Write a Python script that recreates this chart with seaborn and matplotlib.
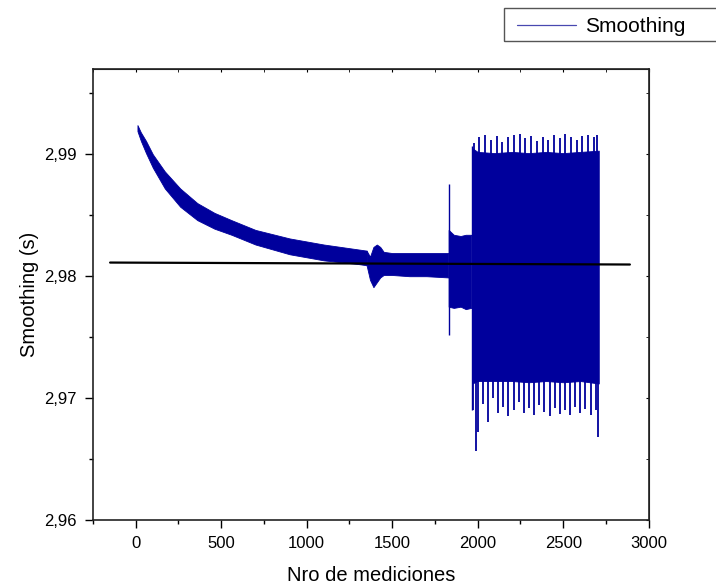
import numpy as np
import pandas as pd
import seaborn as sns
import matplotlib
matplotlib.use("Agg")
import matplotlib.pyplot as plt
from matplotlib.lines import Line2D
from matplotlib.patches import Rectangle
from matplotlib.ticker import MultipleLocator, FuncFormatter

decay_x = [10, 30, 60, 100, 170, 260, 360, 460, 560, 700, 900, 1100, 1300, 1350]
decay_up = [2.9924, 2.9918, 2.9911, 2.9900, 2.9886, 2.9872, 2.9860, 2.9852, 2.9846, 2.9838, 2.9831, 2.9826, 2.9822, 2.9821]
decay_lo = [2.9919, 2.9911, 2.9901, 2.9889, 2.9872, 2.9857, 2.9846, 2.9839, 2.9834, 2.9826, 2.9818, 2.9813, 2.9810, 2.9809]

mid_x = [1350, 1370, 1390, 1410, 1430, 1450, 1500, 1600, 1700, 1828]
mid_up = [2.9821, 2.9816, 2.9824, 2.9826, 2.9824, 2.9820, 2.9819, 2.9819, 2.9819, 2.9819]
mid_lo = [2.9809, 2.9797, 2.9791, 2.9795, 2.9799, 2.9801, 2.9801, 2.9800, 2.9800, 2.9799]

step_x = [1830, 1860, 1900, 1930, 1962]
step_up = [2.9838, 2.9834, 2.9833, 2.9834, 2.9834]
step_lo = [2.9775, 2.9774, 2.9775, 2.9773, 2.9774]

big_x = [1968, 2000, 2100, 2200, 2300, 2400, 2500, 2600, 2708]
big_up = [2.9905, 2.9902, 2.9901, 2.9902, 2.9901, 2.9902, 2.9901, 2.9902, 2.9903]
big_lo = [2.9712, 2.9714, 2.9714, 2.9714, 2.9713, 2.9714, 2.9713, 2.9714, 2.9712]

# isolated spikes
spike_x = [1832, 1968]
spike_top = [2.9876, 2.9907]
spike_bot = [2.9752, 2.9690]

top_spike_x = [1978, 2005, 2040, 2075, 2110, 2140, 2175, 2210, 2245, 2275, 2310, 2345,
               2380, 2410, 2445, 2480, 2510, 2545, 2580, 2610, 2645, 2680, 2700]
top_spike_y = [2.9909, 2.9914, 2.9916, 2.9912, 2.9915, 2.9910, 2.9914, 2.9916, 2.9917, 2.9913, 2.9915, 2.9911,
               2.9914, 2.9912, 2.9916, 2.9913, 2.9917, 2.9914, 2.9912, 2.9915, 2.9916, 2.9914, 2.9916]

bot_spike_x = [1975, 1988, 2000, 2030, 2060, 2090, 2120, 2150, 2180, 2210, 2240, 2270, 2300, 2330,
               2360, 2390, 2420, 2450, 2480, 2510, 2540, 2570, 2600, 2630, 2660, 2690, 2705]
bot_spike_y = [2.9690, 2.9657, 2.9672, 2.9695, 2.9680, 2.9700, 2.9688, 2.9693, 2.9685, 2.9690, 2.9697, 2.9688, 2.9692, 2.9686,
               2.9694, 2.9689, 2.9685, 2.9692, 2.9687, 2.9690, 2.9686, 2.9693, 2.9688, 2.9691, 2.9686, 2.9690, 2.9668]

# linear fit
fit_x = [-150, 2890]
fit_y = [2.98112, 2.98096]

blue = "#00009c"

sns.set_style("ticks")
plt.rcParams["font.family"] = ["Liberation Sans", "DejaVu Sans"]
plt.rcParams["text.color"] = "black"
plt.rcParams["axes.labelcolor"] = "black"
plt.rcParams["xtick.color"] = "black"
plt.rcParams["ytick.color"] = "black"

fig = plt.figure(figsize=(7.16, 5.87), dpi=100)
ax = fig.add_axes([93/716, 1-520/587, (648.7-93)/716, (520-69)/587])

for xs, up, lo in [(decay_x, decay_up, decay_lo), (mid_x, mid_up, mid_lo),
                   (step_x, step_up, step_lo), (big_x, big_up, big_lo)]:
    ax.fill_between(xs, lo, up, color=blue, lw=0.6, edgecolor=blue)

ax.vlines(spike_x, spike_bot, spike_top, color=blue, lw=1.0)
ax.vlines(top_spike_x, [2.9900]*len(top_spike_x), top_spike_y, color=blue, lw=1.3)
ax.vlines(bot_spike_x, bot_spike_y, [2.9716]*len(bot_spike_x), color=blue, lw=1.3)

fit = pd.DataFrame({"x": fit_x, "y": fit_y})
sns.lineplot(data=fit, x="x", y="y", color="black", lw=1.6, ax=ax)

ax.set_xlim(-250, 3000)
ax.set_ylim(2.96, 2.997)
ax.xaxis.set_major_locator(MultipleLocator(500))
ax.xaxis.set_minor_locator(MultipleLocator(250))
ax.yaxis.set_major_locator(MultipleLocator(0.01))
ax.yaxis.set_minor_locator(MultipleLocator(0.005))
ax.yaxis.set_major_formatter(FuncFormatter(lambda v, p: f"{v:.2f}".replace(".", ",")))
ax.xaxis.set_major_formatter(FuncFormatter(lambda v, p: f"{v:.0f}"))

ax.tick_params(which="major", direction="out", length=6, width=1.0, labelsize=12, pad=5.5)
ax.tick_params(which="minor", direction="out", length=3, width=1.0)

for s in ax.spines.values():
    s.set_linewidth(1.2)
    s.set_color("#222222")

# mirrored inner ticks on top and right
secx = ax.secondary_xaxis("top")
secx.xaxis.set_major_locator(MultipleLocator(500))
secx.xaxis.set_minor_locator(MultipleLocator(250))
secx.tick_params(which="both", direction="in", length=2, labeltop=False)
secy = ax.secondary_yaxis("right")
secy.yaxis.set_major_locator(MultipleLocator(0.01))
secy.yaxis.set_minor_locator(MultipleLocator(0.005))
secy.tick_params(which="both", direction="in", length=2, labelright=False)

ax.set_xlabel("Nro de mediciones", fontsize=14.5, labelpad=11)
ax.set_ylabel("Smoothing (s)", fontsize=14.5, labelpad=4)

# legend box sitting above the plot, cut by the right edge
fig.patches.append(Rectangle((504/716, 1-41/587), (730-504)/716, 33/587,
                             transform=fig.transFigure, fill=False,
                             edgecolor="#555555", lw=1.0))
handle = Line2D([], [], color="#4848b0", lw=0.9)
fig.legend([handle], ["Smoothing"], loc="center left",
           bbox_to_anchor=(517/716, 1-26.5/587), frameon=False,
           fontsize=15, handlelength=2.85, handletextpad=0.43, borderpad=0,
           borderaxespad=0)

fig.savefig("out.png", dpi=100)
